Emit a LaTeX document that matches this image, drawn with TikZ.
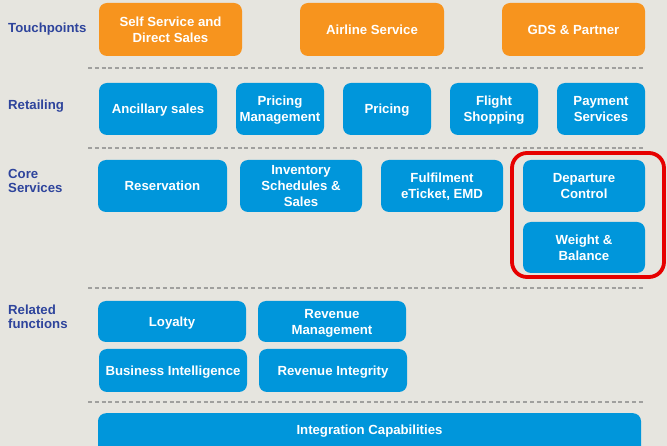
\documentclass[tikz,border=0pt]{standalone}
\usepackage{fontspec}
\setmainfont{Liberation Sans}
\definecolor{bgc}{RGB}{230,229,223}
\definecolor{boxblue}{RGB}{0,150,219}
\definecolor{boxorange}{RGB}{247,148,30}
\definecolor{labblue}{RGB}{46,68,156}
\definecolor{dashgray}{RGB}{160,160,158}
\definecolor{hlred}{RGB}{230,0,0}
\tikzset{
  tile/.style={rounded corners=8pt, inner sep=0pt, align=center, text=white,
    text depth=0pt, font=\fontsize{13.2}{16}\selectfont\bfseries},
  bluetile/.style={tile, fill=boxblue},
  orangetile/.style={tile, fill=boxorange},
  rowlabel/.style={anchor=west, align=left, inner sep=0pt, text=labblue,
    font=\fontsize{13.2}{14}\selectfont\bfseries},
  sepline/.style={draw=dashgray, line width=1.4pt, dash pattern=on 4pt off 2.8pt},
  highlight/.style={draw=hlred, line width=3.8pt, rounded corners=15pt}
}
\begin{document}
\begin{tikzpicture}[x=1pt,y=-1pt]
\useasboundingbox (0,0) rectangle (667,446);
\clip (0,0) rectangle (667,446);
\fill[bgc] (0,0) rectangle (667,446);

% row labels
\node[rowlabel] (lTouch) at (8,29.5) {Touchpoints};
\node[rowlabel] (lRetail) at (8,106.5) {Retailing};
\node[rowlabel] (lCore) at (8,180.5) {Core\\Services};
\node[rowlabel] (lRel) at (8,317) {Related\\functions};

% separators
\coordinate (s1a) at (88,68);  \coordinate (s1b) at (645,68);
\coordinate (s2a) at (88,148); \coordinate (s2b) at (645,148);
\coordinate (s3a) at (88,288); \coordinate (s3b) at (645,288);
\coordinate (s4a) at (88,402); \coordinate (s4b) at (645,402);
\draw[sepline] (s1a) -- (s1b);
\draw[sepline] (s2a) -- (s2b);
\draw[sepline] (s3a) -- (s3b);
\draw[sepline] (s4a) -- (s4b);

% Touchpoints
\node[orangetile, minimum width=143pt, minimum height=53pt] (selfserv) at (170.5,29.5) {Self Service and\\Direct Sales};
\node[orangetile, minimum width=144pt, minimum height=53pt] (airline) at (372,29.5) {Airline Service};
\node[orangetile, minimum width=143pt, minimum height=53pt] (gds) at (573.5,29.5) {GDS \& Partner};

% Retailing
\node[bluetile, minimum width=118pt, minimum height=52pt] (ancil) at (158,109) {Ancillary sales};
\node[bluetile, minimum width=88pt, minimum height=52pt] (pricmgmt) at (280,109) {Pricing\\Management};
\node[bluetile, minimum width=88pt, minimum height=52pt] (pricing) at (387,109) {Pricing};
\node[bluetile, minimum width=88pt, minimum height=52pt] (flight) at (494,109) {Flight\\Shopping};
\node[bluetile, minimum width=88pt, minimum height=52pt] (payment) at (601,109) {Payment\\Services};

% Core Services
\node[bluetile, minimum width=129pt, minimum height=52pt] (reserv) at (162.5,186) {Reservation};
\node[bluetile, minimum width=122pt, minimum height=52pt] (invent) at (301,186) {Inventory\\Schedules \&\\Sales};
\node[bluetile, minimum width=122pt, minimum height=52pt] (fulfil) at (442,186) {Fulfilment\\eTicket, EMD};
\node[bluetile, minimum width=122pt, minimum height=52pt] (depart) at (584,186) {Departure\\Control};
\node[bluetile, minimum width=122pt, minimum height=51pt] (weight) at (584,247.5) {Weight \&\\Balance};
\node[highlight, minimum width=152pt, minimum height=124pt, inner sep=0pt] (hl) at (588,215) {};

% Related functions
\node[bluetile, minimum width=148pt, minimum height=41pt] (loyalty) at (172,321.5) {Loyalty};
\node[bluetile, minimum width=148pt, minimum height=41pt] (revmgmt) at (332,321.5) {Revenue\\Management};
\node[bluetile, minimum width=148pt, minimum height=43pt] (bi) at (173,370.5) {Business Intelligence};
\node[bluetile, minimum width=148pt, minimum height=43pt] (revint) at (333,370.5) {Revenue Integrity};

% Integration
\node[bluetile, minimum width=543pt, minimum height=50pt, anchor=north] (integ) at (369.5,413) {};
\node[tile, anchor=center] (integtext) at ([yshift=-17pt]integ.north) {Integration Capabilities};
\end{tikzpicture}
\end{document}
